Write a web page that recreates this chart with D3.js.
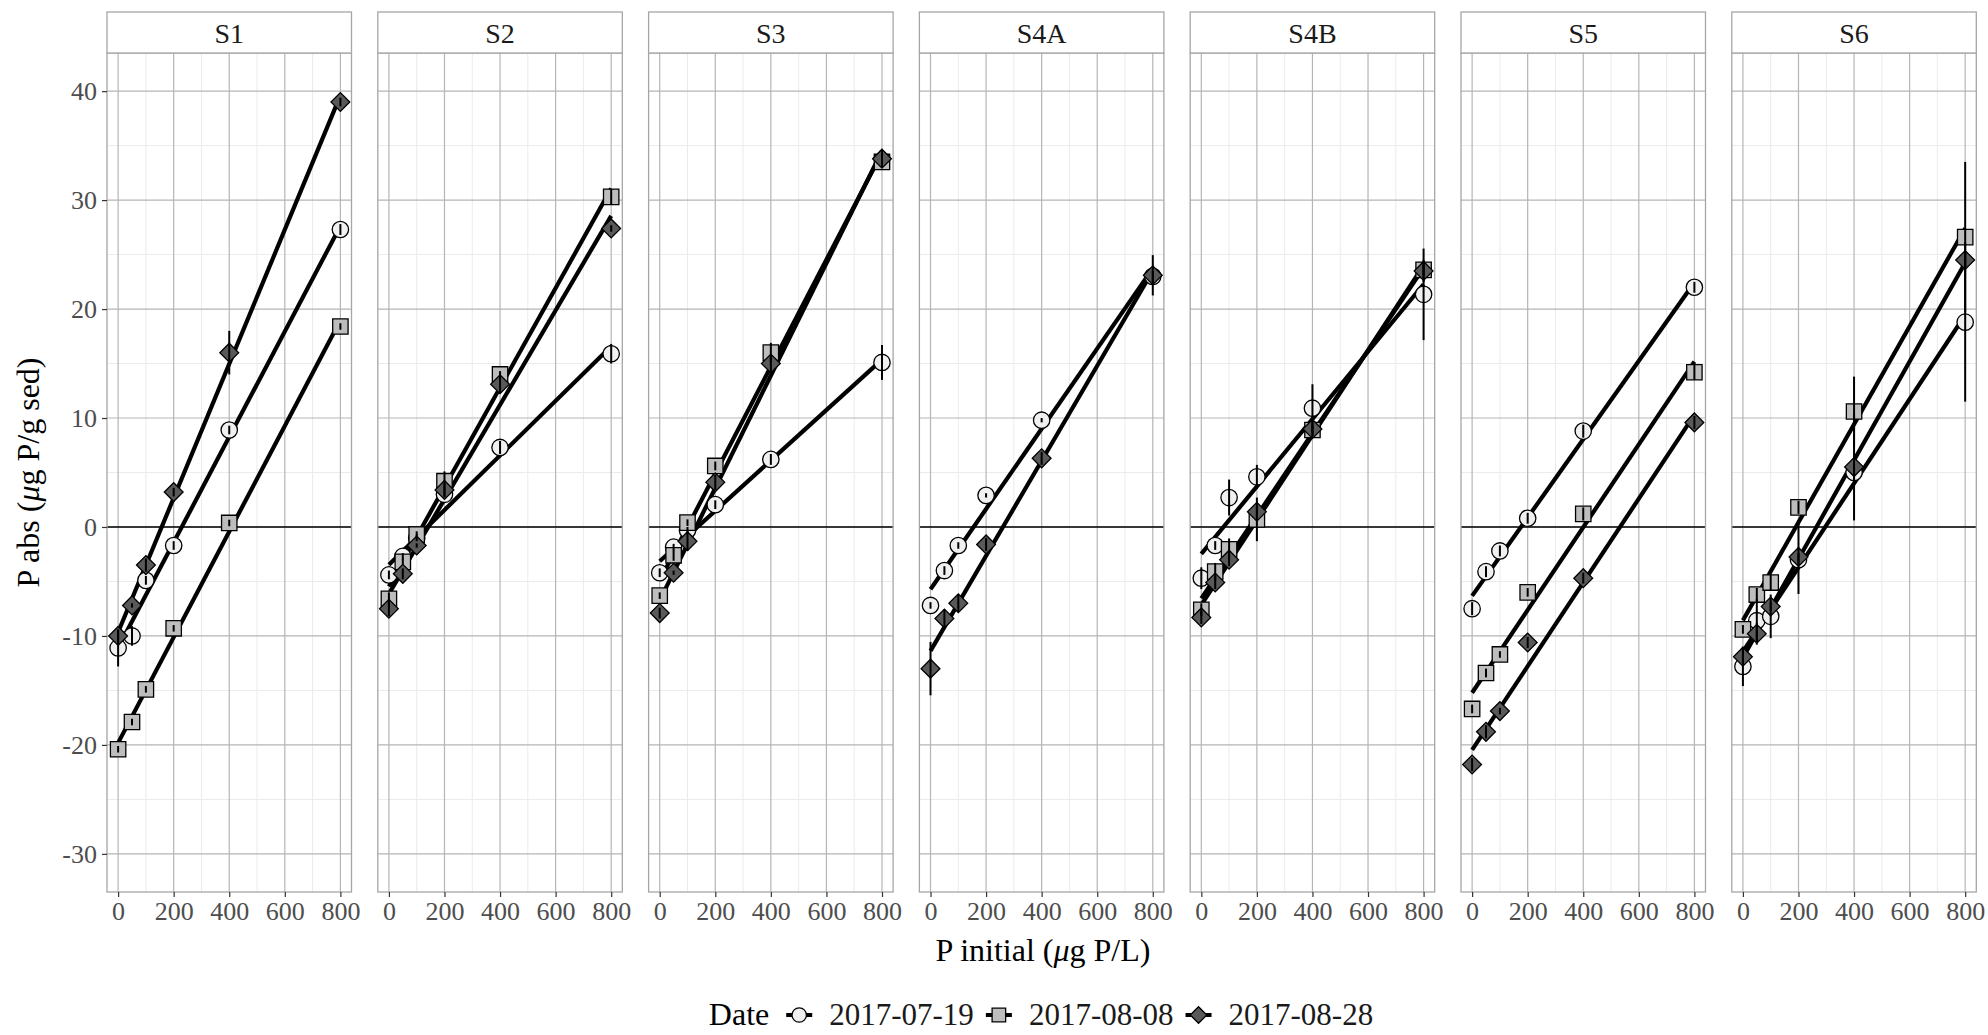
<!DOCTYPE html>
<html>
<head>
<meta charset="utf-8">
<script src="https://cdn.jsdelivr.net/npm/d3@7"></script>
<style>
  html, body { margin: 0; padding: 0; background: #ffffff; }
  svg { display: block; }
  svg text { font-family: "Liberation Serif", "Times New Roman", serif; }
</style>
</head>
<body>
<svg id="chart" width="1988" height="1035"></svg>
<script>
// ---- data -------------------------------------------------------------
const sites = ["S1", "S2", "S3", "S4A", "S4B", "S5", "S6"];
const dates = ["2017-07-19", "2017-08-08", "2017-08-28"];
const pInitial = [0, 50, 100, 200, 400, 800];          // µg P/L
const xTicks = [0, 200, 400, 600, 800];
const yTicks = [-30, -20, -10, 0, 10, 20, 30, 40];

// P abs (µg P/g sed): one row per site, columns follow pInitial
const abs0719 = [
  [-11.1, -10.0, -4.9, -1.7, 8.9, 27.3],
  [-4.4, -2.7, -1.0, 3.0, 7.3, 15.9],
  [-4.2, -1.85, -0.3, 2.05, 6.2, 15.1],
  [-7.2, -4.0, -1.7, 2.9, 9.8, 23.0],
  [-4.7, -1.7, 2.7, 4.6, 10.9, 21.35],
  [-7.5, -4.1, -2.2, 0.8, 8.8, 22.0],
  [-12.8, -8.6, -8.2, -3.0, 5.0, 18.8]
];
const se0719 = [
  [1.7, 0.9, 0.4, 0.4, 0.4, 0.5],
  [0.4, 0.3, 0.3, 0.3, 0.6, 0.9],
  [0.4, 0.3, 0.3, 0.4, 0.5, 1.6],
  [0.3, 0.4, 0.3, 0.2, 0.2, 0.5],
  [1.0, 0.4, 1.65, 1.1, 2.2, 4.2],
  [0.6, 0.5, 0.5, 0.5, 0.6, 0.5],
  [1.8, 2.0, 2.0, 0.6, 0.6, 7.3]
];
const abs0808 = [
  [-20.4, -17.9, -14.9, -9.3, 0.37, 18.4],
  [-6.6, -3.2, -0.7, 4.2, 14.0, 30.3],
  [-6.3, -2.6, 0.4, 5.6, 16.0, 33.5],
  [null, null, null, null, null, null],
  [-7.6, -4.1, -2.05, 0.7, 8.9, 23.6],
  [-16.7, -13.4, -11.7, -6.0, 1.2, 14.2],
  [-9.4, -6.2, -5.1, 1.8, 10.6, 26.6]
];
const se0808 = [
  [0.3, 0.3, 0.3, 0.3, 0.3, 0.3],
  [0.6, 0.3, 0.3, 0.9, 0.3, 0.7],
  [0.3, 0.5, 0.3, 0.4, 0.9, 0.5],
  [null, null, null, null, null, null],
  [0.6, 0.8, 1.0, 2.0, 0.5, 0.5],
  [0.4, 0.4, 0.3, 0.4, 0.6, 0.7],
  [0.4, 0.6, 0.7, 0.6, 3.2, 6.9]
];
const abs0828 = [
  [-10.0, -7.2, -3.5, 3.2, 16.0, 39.0],
  [-7.5, -4.3, -1.7, 3.4, 13.1, 27.4],
  [-7.9, -4.2, -1.3, 4.1, 15.0, 33.8],
  [-13.0, -8.4, -7.0, -1.6, 6.3, 23.1],
  [-8.3, -5.1, -3.0, 1.4, 9.0, 23.5],
  [-21.8, -18.8, -16.9, -10.6, -4.7, 9.6],
  [-11.9, -9.8, -7.3, -2.75, 5.5, 24.5]
];
const se0828 = [
  [0.6, 0.2, 0.6, 0.4, 2.0, 0.4],
  [0.7, 0.5, 0.2, 0.6, 0.8, 0.3],
  [0.5, 0.2, 0.9, 0.7, 0.8, 0.8],
  [2.45, 0.8, 0.8, 0.6, 0.6, 1.85],
  [0.6, 0.6, 0.6, 0.5, 0.8, 1.0],
  [0.6, 0.6, 0.3, 0.5, 0.5, 0.6],
  [0.9, 1.0, 0.4, 3.4, 4.9, 0.8]
];

// ---- styling ----------------------------------------------------------
const FONT = '"Liberation Serif", "Times New Roman", serif';
const seriesStyle = [
  { shape: "circle",  fill: "#f0f0f0" },
  { shape: "square",  fill: "#bdbdbd" },
  { shape: "diamond", fill: "#595959" }
];
const absBySeries = [abs0719, abs0808, abs0828];
const seBySeries = [se0719, se0808, se0828];

// ---- layout -----------------------------------------------------------
const W = 1988, H = 1035;
const panelLeft0 = 107, panelStep = 270.8, panelW = 244.5;
const stripTop = 12, panelTop = 53, panelBottom = 892;
const gridMajor = "#b5b5b5", gridMinor = "#ebebeb", borderCol = "#a6a6a6";

const svg = d3.select("#chart");
svg.append("rect").attr("width", W).attr("height", H).attr("fill", "#ffffff");

const y = d3.scaleLinear().domain([-33.5, 43.5]).range([panelBottom, panelTop]);
const yMinor = d3.range(-25, 45, 10);
const xMinor = [100, 300, 500, 700];
const fmt = d => String(d);   // plain hyphen for negatives

function markerPath(shape, big) {
  const k = big ? 1 : 0.88;
  if (shape === "circle") return d3.symbol(d3.symbolCircle, Math.PI * Math.pow(8.2 * k, 2))();
  if (shape === "square") return d3.symbol(d3.symbolSquare, Math.pow(15.4 * k, 2))();
  return d3.symbol(d3.symbolSquare, Math.pow(13.3 * k, 2))();   // rotated 45° below
}

sites.forEach((site, si) => {
  const left = panelLeft0 + si * panelStep;
  const x = d3.scaleLinear().domain([-40, 840]).range([left, left + panelW]);
  const g = svg.append("g").attr("class", "panel");

  // grid
  g.selectAll(".ymin").data(yMinor).join("line")
    .attr("x1", left).attr("x2", left + panelW)
    .attr("y1", d => y(d)).attr("y2", d => y(d))
    .attr("stroke", gridMinor).attr("stroke-width", 1);
  g.selectAll(".xmin").data(xMinor).join("line")
    .attr("x1", d => x(d)).attr("x2", d => x(d))
    .attr("y1", panelTop).attr("y2", panelBottom)
    .attr("stroke", gridMinor).attr("stroke-width", 1);
  g.selectAll(".ymaj").data(yTicks).join("line")
    .attr("x1", left).attr("x2", left + panelW)
    .attr("y1", d => y(d)).attr("y2", d => y(d))
    .attr("stroke", gridMajor).attr("stroke-width", 1.2);
  g.selectAll(".xmaj").data(xTicks).join("line")
    .attr("x1", d => x(d)).attr("x2", d => x(d))
    .attr("y1", panelTop).attr("y2", panelBottom)
    .attr("stroke", gridMajor).attr("stroke-width", 1.2);

  // zero reference line
  g.append("line")
    .attr("x1", left).attr("x2", left + panelW)
    .attr("y1", y(0)).attr("y2", y(0))
    .attr("stroke", "#000").attr("stroke-width", 1.6);

  // per-series points for this site
  const series = seriesStyle.map((st, k) => {
    const pts = pInitial.map((p, j) => ({
      p, v: absBySeries[k][si][j], se: seBySeries[k][si][j]
    })).filter(d => d.v !== null && d.v !== undefined);
    return { st, pts };
  }).filter(s => s.pts.length > 0);

  // least-squares fit lines
  series.forEach(s => {
    const mx = d3.mean(s.pts, d => d.p), my = d3.mean(s.pts, d => d.v);
    const sxy = d3.sum(s.pts, d => (d.p - mx) * (d.v - my));
    const sxx = d3.sum(s.pts, d => (d.p - mx) * (d.p - mx));
    const b = sxy / sxx, a = my - b * mx;
    const ext = d3.extent(s.pts, d => d.p);
    g.append("line")
      .attr("x1", x(ext[0])).attr("y1", y(a + b * ext[0]))
      .attr("x2", x(ext[1])).attr("y2", y(a + b * ext[1]))
      .attr("stroke", "#000").attr("stroke-width", 4.2);
  });

  // points
  series.forEach(s => {
    g.selectAll(null).data(s.pts).join("path")
      .attr("d", markerPath(s.st.shape, true))
      .attr("transform", d => `translate(${x(d.p)},${y(d.v)})` + (s.st.shape === "diamond" ? " rotate(45)" : ""))
      .attr("fill", s.st.fill).attr("stroke", "#000").attr("stroke-width", 1.3);
  });

  // error bars
  series.forEach(s => {
    g.selectAll(null).data(s.pts).join("line")
      .attr("x1", d => x(d.p)).attr("x2", d => x(d.p))
      .attr("y1", d => y(d.v - d.se)).attr("y2", d => y(d.v + d.se))
      .attr("stroke", "#000").attr("stroke-width", 2);
  });

  // panel border
  g.append("rect")
    .attr("x", left).attr("y", panelTop).attr("width", panelW).attr("height", panelBottom - panelTop)
    .attr("fill", "none").attr("stroke", borderCol).attr("stroke-width", 1.3);

  // strip
  g.append("rect")
    .attr("x", left).attr("y", stripTop).attr("width", panelW).attr("height", panelTop - stripTop)
    .attr("fill", "#ffffff").attr("stroke", borderCol).attr("stroke-width", 1.3);
  g.append("text")
    .attr("x", left + panelW / 2).attr("y", 43)
    .attr("text-anchor", "middle").attr("font-family", FONT).attr("font-size", 28).attr("fill", "#1a1a1a")
    .text(site);

  // x axis
  const xa = svg.append("g").attr("transform", `translate(0,${panelBottom})`)
    .call(d3.axisBottom(x).tickValues(xTicks).tickSize(5).tickPadding(5).tickFormat(fmt));
  xa.attr("font-family", FONT);
  xa.select(".domain").remove();
  xa.selectAll(".tick line").attr("stroke", "#333333").attr("stroke-width", 1.2);
  xa.selectAll(".tick text").attr("font-size", 26).attr("fill", "#4d4d4d")
    .attr("font-family", FONT).attr("dy", "0.71em");
});

// y axis (left of first panel)
const ya = svg.append("g").attr("transform", `translate(${panelLeft0},0)`)
  .call(d3.axisLeft(y).tickValues(yTicks).tickSize(5).tickPadding(5).tickFormat(fmt));
ya.attr("font-family", FONT);
ya.select(".domain").remove();
ya.selectAll(".tick line").attr("stroke", "#333333").attr("stroke-width", 1.2);
ya.selectAll(".tick text").attr("font-size", 26).attr("fill", "#4d4d4d").attr("font-family", FONT);

// axis titles
const xTitle = svg.append("text").attr("x", 1043).attr("y", 961)
  .attr("text-anchor", "middle").attr("font-family", FONT).attr("font-size", 32).attr("fill", "#000");
xTitle.append("tspan").text("P initial (");
xTitle.append("tspan").attr("font-style", "italic").text("μ");
xTitle.append("tspan").text("g P/L)");

const yTitle = svg.append("text")
  .attr("transform", `translate(39,${(panelTop + panelBottom) / 2}) rotate(-90)`)
  .attr("text-anchor", "middle").attr("font-family", FONT).attr("font-size", 32).attr("fill", "#000");
yTitle.append("tspan").text("P abs (");
yTitle.append("tspan").attr("font-style", "italic").text("μ");
yTitle.append("tspan").text("g P/g sed)");

// legend
const leg = svg.append("g");
const legBase = 1025;
let cx = 0;
const lt = leg.append("text").attr("x", cx).attr("y", legBase).attr("font-family", FONT)
  .attr("font-size", 32).attr("fill", "#000").text("Date");
cx += lt.node().getComputedTextLength() + 17;
dates.forEach((dt, k) => {
  const st = seriesStyle[k];
  const keyW = 26, mid = legBase - 10;
  leg.append("line").attr("x1", cx).attr("x2", cx + keyW).attr("y1", mid).attr("y2", mid)
    .attr("stroke", "#000").attr("stroke-width", 4);
  leg.append("path").attr("d", markerPath(st.shape, false))
    .attr("transform", `translate(${cx + keyW / 2},${mid})` + (st.shape === "diamond" ? " rotate(45)" : ""))
    .attr("fill", st.fill).attr("stroke", "#000").attr("stroke-width", 1.3);
  cx += keyW + 17;
  const t = leg.append("text").attr("x", cx).attr("y", legBase).attr("font-family", FONT)
    .attr("font-size", 31).attr("fill", "#1a1a1a").text(dt);
  cx += t.node().getComputedTextLength() + (k < dates.length - 1 ? 12 : 0);
});
leg.attr("transform", `translate(${1041 - cx / 2},0)`);
</script>
</body>
</html>
